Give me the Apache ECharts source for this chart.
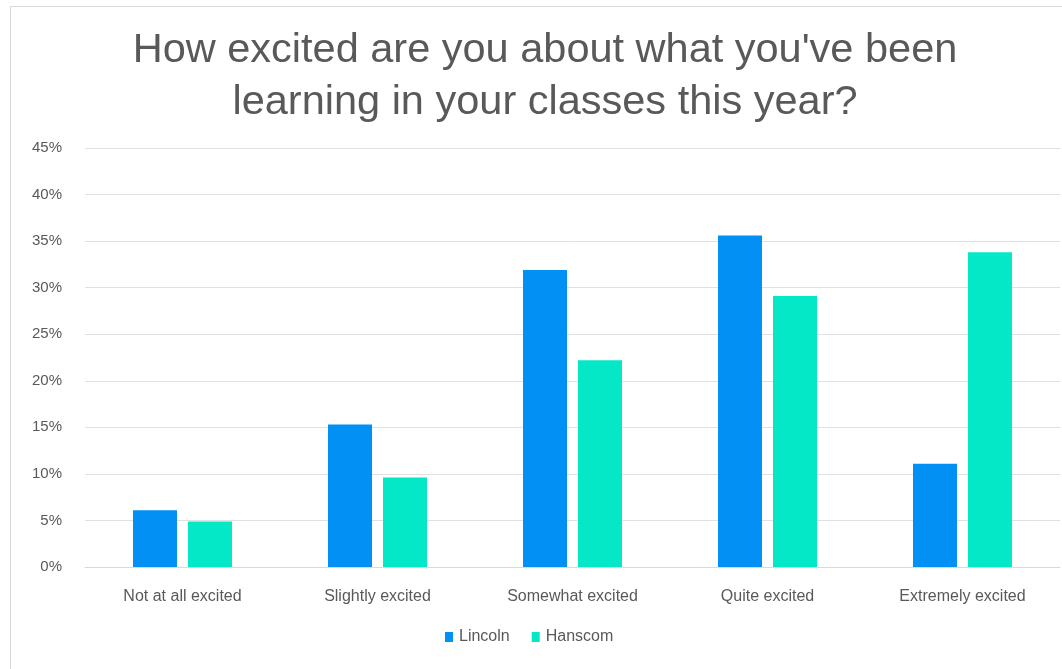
<!DOCTYPE html>
<html>
<head>
<meta charset="utf-8">
<script src="https://cdn.jsdelivr.net/npm/echarts@6/dist/echarts.min.js"></script>
<style>
  html, body { margin: 0; padding: 0; background: #fff; }
  #frame { position: absolute; left: 10px; top: 6px; width: 1100px; height: 700px;
           border-left: 1px solid #d9d9d9; border-top: 1px solid #d9d9d9; }
  #chart { position: absolute; left: 0; top: 0; width: 1062px; height: 669px; }
</style>
</head>
<body>
<div id="frame"></div>
<div id="chart"></div>
<script>
// 數據
const categories = ['Not at all excited', 'Slightly excited', 'Somewhat excited', 'Quite excited', 'Extremely excited']
const lincoln = [6.1, 15.3, 31.9, 35.6, 11.1]
const hanscom = [4.9, 9.6, 22.2, 29.1, 33.8]
const seriesNames = ['Lincoln', 'Hanscom']

const textColor = '#595959'
const font = 'Liberation Sans, Arial, sans-serif'

const chart = echarts.init(document.getElementById('chart'))

chart.setOption({
  animation: false,
  title: {
    text: "How excited are you about what you've been\nlearning in your classes this year?",
    left: 545,
    top: 20,
    textAlign: 'center',
    padding: [5, 0, 5, 0],
    textStyle: {
      fontFamily: font,
      fontSize: 41.5,
      fontWeight: 'normal',
      color: textColor,
      lineHeight: 52
    }
  },
  legend: {
    data: seriesNames,
    bottom: 19,
    left: 440,
    itemWidth: 8,
    itemHeight: 10,
    itemGap: 22,
    icon: 'rect',
    textStyle: { fontFamily: font, fontSize: 16, color: textColor, padding: [0, 0, 0, 1] }
  },
  grid: {
    left: 85,
    right: 2,
    top: 148,
    bottom: 102
  },
  xAxis: {
    type: 'category',
    data: categories,
    axisLine: { show: true, lineStyle: { color: '#d9d9d9' } },
    axisTick: { show: false },
    axisLabel: { fontFamily: font, fontSize: 16, color: textColor, margin: 22 }
  },
  yAxis: {
    type: 'value',
    min: 0,
    max: 45,
    interval: 5,
    axisLine: { show: false },
    axisTick: { show: false },
    splitLine: { lineStyle: { color: '#e0e0e0' } },
    axisLabel: {
      fontFamily: font,
      fontSize: 15,
      color: textColor,
      margin: 23,
      formatter: '{value}%'
    }
  },
  series: [
    {
      name: seriesNames[0],
      type: 'bar',
      data: lincoln,
      barWidth: 44,
      barGap: '25%',
      itemStyle: { color: '#0290f5' }
    },
    {
      name: seriesNames[1],
      type: 'bar',
      data: hanscom,
      barWidth: 44,
      itemStyle: { color: '#04e8c8' }
    }
  ]
})
</script>
</body>
</html>
